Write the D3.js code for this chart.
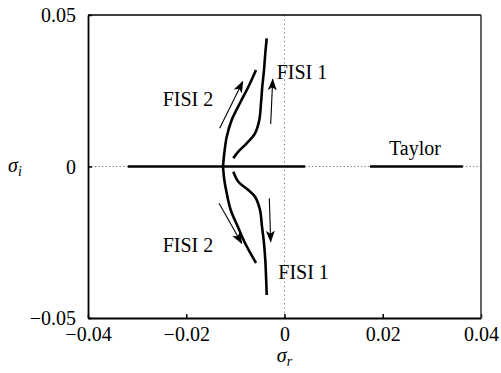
<!DOCTYPE html>
<html>
<head>
<meta charset="utf-8">
<script src="https://cdn.jsdelivr.net/npm/d3@7"></script>
<style>
  html, body { margin: 0; padding: 0; background: #fff; }
  svg { display: block; }
</style>
</head>
<body>
<svg id="chart" width="501" height="373"></svg>
<script>
// Axis extents and tick labels
const xTicks = [-0.04, -0.02, 0, 0.02, 0.04];
const xTickLabels = ["\u22120.04", "\u22120.02", "0", "0.02", "0.04"];
const yTicks = [-0.05, 0, 0.05];
const yTickLabels = ["\u22120.05", "0", "0.05"];

// Taylor branch: real growth rates on sigma_i = 0 (start, end pairs)
const taylorSegments = [[-0.0319, 0.0042], [0.0174, 0.0363]];

// FISI 2 branches [sigma_r, sigma_i]
const fisi2Upper = [[-0.01252, 0], [-0.01225, 0.00446], [-0.01177, 0.00974], [-0.01075, 0.01535],
  [-0.00906, 0.02096], [-0.00737, 0.02624], [-0.00580, 0.03185]];
const fisi2Lower = [[-0.01252, 0], [-0.01225, -0.00446], [-0.01177, -0.00875], [-0.01095, -0.01436],
  [-0.00947, -0.01997], [-0.00804, -0.02525], [-0.00688, -0.02875], [-0.00580, -0.03185]];

// FISI 1 branches [sigma_r, sigma_i]
const fisi1Upper = [[-0.01042, 0.00271], [-0.00940, 0.00488], [-0.00770, 0.00766], [-0.00600, 0.01096],
  [-0.00513, 0.01535], [-0.00478, 0.02096], [-0.00452, 0.02634], [-0.00417, 0.03185],
  [-0.00391, 0.03736], [-0.00362, 0.04231]];
const fisi1Lower = [[-0.01042, -0.00172], [-0.00940, -0.00502], [-0.00737, -0.00776], [-0.00600, -0.00997],
  [-0.00499, -0.01436], [-0.00458, -0.01987], [-0.00417, -0.02535], [-0.00391, -0.03086],
  [-0.00362, -0.04241]];

// Direction arrows [[x0, y0], [x1, y1]]
const arrows = [
  [[-0.01319, 0.01261], [-0.00851, 0.02799]],
  [[-0.00281, 0.01403], [-0.00240, 0.02878]],
  [[-0.01333, -0.01215], [-0.00871, -0.02535]],
  [[-0.00309, -0.01050], [-0.00281, -0.02482]]
];

// Branch labels [text, sigma_r, sigma_i]
const labelTexts = ["FISI 2", "FISI 1", "FISI 2", "FISI 1", "Taylor"];
const labelX = [-0.0248, -0.00159, -0.0248, -0.00126, 0.02127];
const labelY = [0.01997, 0.02878, -0.02812, -0.03713, 0.0038];

const TEXT_STYLE = "font-family:'Liberation Serif';font-size:20px;fill:#000";
const ITALIC_STYLE = "font-family:'Liberation Serif';font-style:italic";

const svg = d3.select("#chart");
const plotLeft = 88, plotRight = 481, plotTop = 15, plotBottom = 318;

const x = d3.scaleLinear().domain([-0.04, 0.04]).range([plotLeft, plotRight]);
const y = d3.scaleLinear().domain([-0.05, 0.05]).range([plotBottom, plotTop]);

// Dotted zero lines
svg.append("line")
  .attr("x1", x(0)).attr("x2", x(0)).attr("y1", y(0.05)).attr("y2", y(-0.05))
  .attr("stroke", "#777").attr("stroke-width", 1).attr("stroke-dasharray", "1.3,3");
svg.append("line")
  .attr("x1", x(-0.04)).attr("x2", x(0.04)).attr("y1", y(0)).attr("y2", y(0))
  .attr("stroke", "#777").attr("stroke-width", 1).attr("stroke-dasharray", "1.3,2.2");

// Axes
const xAxis = d3.axisBottom(x).tickValues(xTicks).tickSizeInner(-4).tickSizeOuter(0)
  .tickPadding(9).tickFormat((d, i) => xTickLabels[i]);
const yAxis = d3.axisLeft(y).tickValues(yTicks).tickSizeInner(-4).tickSizeOuter(0)
  .tickPadding(12).tickFormat((d, i) => yTickLabels[i]);

const gx = svg.append("g").attr("transform", `translate(0,${plotBottom})`).call(xAxis);
const gy = svg.append("g").attr("transform", `translate(${plotLeft},0)`).call(yAxis);
[gx, gy].forEach(g => {
  g.attr("font-family", null).attr("font-size", null);
  g.select(".domain").attr("stroke", "#000").attr("stroke-width", 1.8);
  g.selectAll(".tick line").attr("stroke", "#000").attr("stroke-width", 1.5);
  g.selectAll(".tick text").attr("fill", null).attr("style", TEXT_STYLE);
});
gx.selectAll(".tick text").attr("dy", "0.71em");
gy.selectAll(".tick text").attr("dy", "0.34em");

// Top and right frame
svg.append("line").attr("x1", x(-0.04)).attr("x2", x(0.04)).attr("y1", y(0.05)).attr("y2", y(0.05))
  .attr("stroke", "#000").attr("stroke-width", 1.5);
svg.append("line").attr("x1", x(0.04)).attr("x2", x(0.04)).attr("y1", y(0.05)).attr("y2", y(-0.05))
  .attr("stroke", "#333").attr("stroke-width", 1.5);

// Taylor branch
svg.selectAll(".taylor").data(taylorSegments).enter().append("line")
  .attr("class", "taylor")
  .attr("x1", d => x(d[0])).attr("x2", d => x(d[1]))
  .attr("y1", y(0)).attr("y2", y(0))
  .attr("stroke", "#000").attr("stroke-width", 2.6);

// FISI branches
const line = d3.line().x(d => x(d[0])).y(d => y(d[1])).curve(d3.curveCatmullRom.alpha(0.5));
svg.selectAll(".branch").data([fisi2Upper, fisi2Lower, fisi1Upper, fisi1Lower]).enter().append("path")
  .attr("class", "branch")
  .attr("d", line)
  .attr("fill", "none").attr("stroke", "#000").attr("stroke-width", 2.6)
  .attr("stroke-linecap", "butt");

// Arrow marker
svg.append("defs").append("marker")
  .attr("id", "head").attr("viewBox", "0 -5 12 10")
  .attr("refX", 11).attr("refY", 0)
  .attr("markerUnits", "userSpaceOnUse")
  .attr("markerWidth", 12).attr("markerHeight", 10)
  .attr("orient", "auto")
  .append("path").attr("d", "M0,-4.5L12,0L0,4.5L3,0Z").attr("fill", "#000");

svg.selectAll(".arrow").data(arrows).enter().append("line")
  .attr("class", "arrow")
  .attr("x1", d => x(d[0][0])).attr("y1", d => y(d[0][1]))
  .attr("x2", d => x(d[1][0])).attr("y2", d => y(d[1][1]))
  .attr("stroke", "#000").attr("stroke-width", 1.1)
  .attr("marker-end", "url(#head)");

// Branch labels
svg.selectAll(".lbl").data(labelTexts).enter().append("text")
  .attr("class", "lbl")
  .attr("x", (d, i) => x(labelX[i])).attr("y", (d, i) => y(labelY[i]))
  .attr("style", TEXT_STYLE)
  .text(d => d);

// Axis titles
const xt = svg.append("text").attr("x", x(0)).attr("y", 362).attr("text-anchor", "middle")
  .attr("style", TEXT_STYLE);
xt.append("tspan").attr("style", ITALIC_STYLE).text("\u03c3");
xt.append("tspan").attr("style", ITALIC_STYLE + ";font-size:14px").attr("dy", 4).text("r");

const yt = svg.append("text").attr("x", 8).attr("y", 172).attr("style", TEXT_STYLE);
yt.append("tspan").attr("style", ITALIC_STYLE).text("\u03c3");
yt.append("tspan").attr("style", ITALIC_STYLE + ";font-size:14px").attr("dy", 4).text("i");
</script>
</body>
</html>
